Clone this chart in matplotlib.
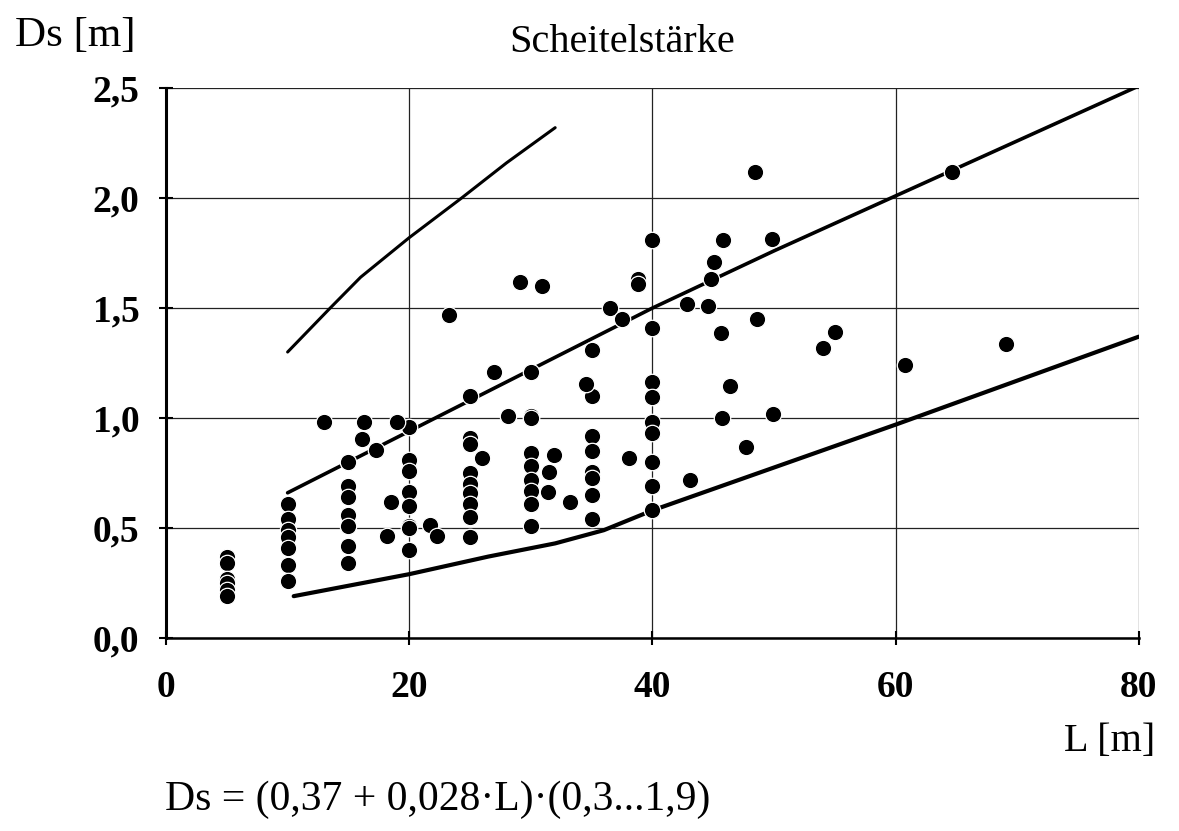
import matplotlib
matplotlib.use("Agg")
import matplotlib.pyplot as plt

# ---- data -------------------------------------------------------------
col_L = [5, 10, 15, 20, 25, 30, 35, 40]
col_Ds = [
    [0.37, 0.34, 0.27, 0.25, 0.22, 0.19],
    [0.61, 0.54, 0.49, 0.46, 0.41, 0.33, 0.26],
    [0.80, 0.69, 0.64, 0.56, 0.51, 0.42, 0.34],
    [0.96, 0.81, 0.76, 0.665, 0.60, 0.51, 0.50, 0.40],
    [1.10, 0.91, 0.88, 0.75, 0.70, 0.66, 0.61, 0.55, 0.46],
    [1.21, 1.01, 1.00, 0.84, 0.78, 0.72, 0.67, 0.61, 0.51],
    [1.31, 1.10, 0.92, 0.85, 0.755, 0.725, 0.65, 0.54],
    [1.81, 1.41, 1.165, 1.095, 0.98, 0.93, 0.80, 0.69, 0.58],
]
extra_L = [13.0, 16.3, 16.1, 17.3, 19.0, 18.5, 18.2, 21.7, 22.3, 23.3, 26.0,
           27.0, 28.1, 29.1, 30.9, 31.9, 31.5, 31.4, 33.2, 34.5, 36.5, 37.5,
           38.1, 38.8, 38.8, 42.8, 44.6, 44.8, 45.1, 45.8, 49.8, 48.4, 64.6,
           45.6, 48.6, 55.0, 54.0, 60.8, 69.1, 46.4, 45.7, 49.9, 47.7, 43.1]
extra_Ds = [0.98, 0.98, 0.905, 0.855, 0.98, 0.62, 0.465, 0.515, 0.465, 1.47, 0.82,
            1.21, 1.01, 1.62, 1.60, 0.83, 0.755, 0.665, 0.62, 1.155, 1.50, 1.45,
            0.82, 1.63, 1.61, 1.52, 1.51, 1.63, 1.71, 1.81, 1.815, 2.12, 2.12,
            1.385, 1.45, 1.39, 1.32, 1.24, 1.335, 1.145, 1.00, 1.02, 0.87, 0.72]

mid_L = [10, 20, 30, 40, 50, 60, 70, 80]
mid_Ds = [0.66, 0.94, 1.22, 1.50, 1.76, 2.01, 2.26, 2.51]

low_L = [10.5, 20, 26.5, 32, 36, 40, 60, 80]
low_Ds = [0.19, 0.29, 0.37, 0.43, 0.49, 0.58, 0.97, 1.37]

up_L = [10, 13.5, 16, 20, 24.3, 28, 32]
up_Ds = [1.30, 1.50, 1.64, 1.82, 2.00, 2.16, 2.32]

x_ticks = [0, 20, 40, 60, 80]
x_labels = ["0", "20", "40", "60", "80"]
y_ticks = [0.0, 0.5, 1.0, 1.5, 2.0, 2.5]
y_labels = ["0,0", "0,5", "1,0", "1,5", "2,0", "2,5"]

# ---- figure -----------------------------------------------------------
serif = ["Liberation Serif", "DejaVu Serif"]
plt.rcParams["font.family"] = serif

fig = plt.figure(figsize=(11.79, 8.31), dpi=100)
ax = fig.add_axes([0.1408, 0.2323, 0.8252, 0.6617])
ax.set_xlim(0, 80)
ax.set_ylim(0, 2.5)

# grid
ax.set_xticks(x_ticks)
ax.set_yticks(y_ticks)
ax.grid(True, color="#222222", linewidth=0.9)
ax.set_axisbelow(True)

for side in ["top", "right"]:
    ax.spines[side].set_visible(False)
ax.spines["left"].set_linewidth(2.2)
ax.spines["bottom"].set_linewidth(1.8)

ax.tick_params(axis="both", direction="inout", length=10, width=1.5,
               colors="black")
ax.set_xticklabels(x_labels, fontsize=27, fontweight="bold")
ax.set_yticklabels(y_labels, fontsize=27, fontweight="bold")
ax.tick_params(axis="x", pad=18)
ax.tick_params(axis="y", pad=14)

# lines
ax.plot(up_L, up_Ds, color="black", linewidth=2.2, solid_capstyle="round", zorder=3)
ax.plot(mid_L, mid_Ds, color="black", linewidth=2.6, solid_capstyle="round", zorder=3)
ax.plot(low_L, low_Ds, color="black", linewidth=3.0, solid_capstyle="round", zorder=3)

# points
for L, vals in zip(col_L, col_Ds):
    ax.scatter([L] * len(vals), vals, s=140, color="black",
               edgecolors="white", linewidths=0.9, zorder=4, clip_on=False)
ax.scatter(extra_L, extra_Ds, s=140, color="black", edgecolors="white",
           linewidths=0.9, zorder=4, clip_on=False)

# texts
fig.text(75 / 1179, 1 - 36 / 831, "Ds [m]", fontsize=31, ha="center", va="center")
fig.text(622 / 1179, 1 - 42 / 831, "Scheitelstärke", fontsize=29, ha="center", va="center")
fig.text(1110 / 1179, 1 - 742 / 831, "L [m]", fontsize=29, ha="center", va="center")
fig.text(165 / 1179, 1 - 800 / 831, "Ds = (0,37 + 0,028·L)·(0,3...1,9)",
         fontsize=30, ha="left", va="center")

fig.savefig("out.png", dpi=100, facecolor="white")
